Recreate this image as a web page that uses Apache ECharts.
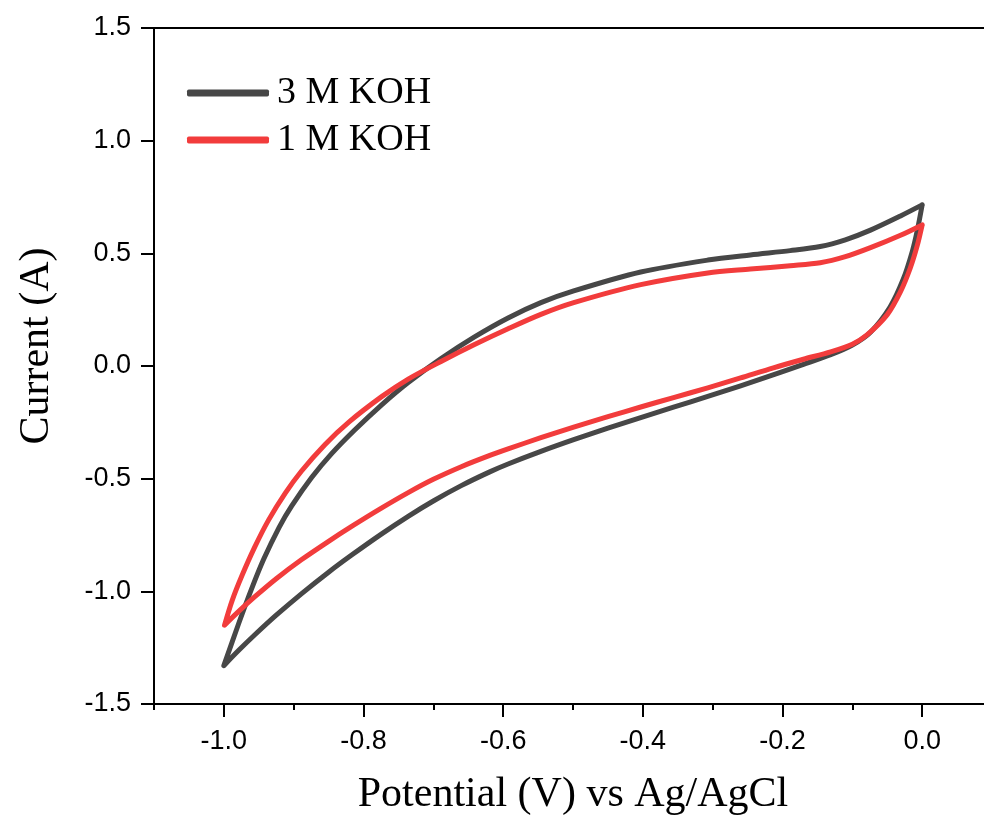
<!DOCTYPE html>
<html>
<head>
<meta charset="utf-8">
<script src="https://cdn.jsdelivr.net/npm/echarts@6/dist/echarts.min.js"></script>
<style>
html,body{margin:0;padding:0;background:#fff;}
#chart{width:984px;height:816px;}
</style>
</head>
<body>
<div id="chart"></div>
<script>
// Series names
const seriesNames = ['3 M KOH', '1 M KOH'];

// 3 M KOH loop (potential V, current A): upper branch 0 -> -1.0, then lower branch -1.0 -> 0
const potential3M = [0.000, -0.031, -0.074, -0.110, -0.146, -0.189, -0.246, -0.307, -0.403, -0.499, -0.546, -0.593, -0.641, -0.689, -0.736, -0.774, -0.813, -0.846, -0.874, -0.903, -0.921, -0.943, -0.960, -0.979, -1.000,
  -0.979, -0.956, -0.925, -0.889, -0.850, -0.817, -0.775, -0.736, -0.700, -0.660, -0.620, -0.593, -0.546, -0.499, -0.450, -0.403, -0.356, -0.307, -0.260, -0.203, -0.170, -0.131, -0.100, -0.074, -0.046, -0.027, -0.014, -0.007, 0.000];
const current3M = [0.715, 0.666, 0.603, 0.560, 0.530, 0.512, 0.493, 0.470, 0.417, 0.333, 0.281, 0.213, 0.129, 0.033, -0.073, -0.172, -0.285, -0.390, -0.494, -0.622, -0.717, -0.858, -0.987, -1.145, -1.330,
  -1.263, -1.194, -1.106, -1.011, -0.915, -0.839, -0.747, -0.667, -0.599, -0.531, -0.471, -0.435, -0.379, -0.327, -0.276, -0.229, -0.183, -0.135, -0.088, -0.028, 0.007, 0.050, 0.093, 0.150, 0.262, 0.386, 0.510, 0.601, 0.715];

// 1 M KOH loop
const potential1M = [0.000, -0.031, -0.074, -0.110, -0.146, -0.189, -0.246, -0.307, -0.403, -0.499, -0.546, -0.593, -0.641, -0.689, -0.736, -0.774, -0.821, -0.855, -0.889, -0.912, -0.936, -0.956, -0.974, -0.988, -0.999,
  -0.978, -0.956, -0.925, -0.889, -0.850, -0.817, -0.775, -0.736, -0.700, -0.660, -0.620, -0.593, -0.546, -0.499, -0.450, -0.403, -0.356, -0.307, -0.260, -0.213, -0.170, -0.131, -0.100, -0.079, -0.050, -0.031, -0.017, -0.007, 0.000];
const current1M = [0.626, 0.580, 0.525, 0.485, 0.458, 0.445, 0.430, 0.413, 0.361, 0.281, 0.229, 0.165, 0.095, 0.020, -0.058, -0.136, -0.249, -0.348, -0.467, -0.564, -0.684, -0.805, -0.930, -1.040, -1.150,
  -1.087, -1.025, -0.944, -0.860, -0.778, -0.712, -0.632, -0.562, -0.503, -0.447, -0.398, -0.368, -0.318, -0.271, -0.225, -0.182, -0.140, -0.097, -0.053, -0.008, 0.030, 0.063, 0.097, 0.138, 0.228, 0.330, 0.435, 0.535, 0.626];

// Tick values
const xTickValues = [-1.0, -0.8, -0.6, -0.4, -0.2, 0.0];
const xMinorTickValues = [-1.1, -0.9, -0.7, -0.5, -0.3, -0.1, 0.1];
const yMin = -1.5, yMax = 1.5, yInterval = 0.5;
const xMin = -1.1, xMax = 0.1;

function zip(xs, ys) { return xs.map((x, i) => [x, ys[i]]); }

const chart = echarts.init(document.getElementById('chart'), null, {renderer: 'canvas'});
const axisColor = '#000';
const fmt = v => (Math.abs(v) < 1e-9 ? 0 : v).toFixed(1);

chart.setOption({
  animation: false,
  backgroundColor: '#fff',
  grid: {left: 154, right: -8, top: 28, bottom: 112, containLabel: false, outerBoundsMode: 'none'},
  legend: {
    orient: 'vertical',
    left: 182, top: 69,
    itemWidth: 82, itemHeight: 7, itemGap: 9,
    icon: 'roundRect',
    textStyle: {fontFamily: 'Liberation Serif', fontSize: 38, lineHeight: 38, color: '#000', padding: [0, 0, 0, 3]},
    data: seriesNames
  },
  xAxis: [
    {
      type: 'value', min: xMin, max: xMax, position: 'bottom',
      name: 'Potential (V) vs Ag/AgCl', nameLocation: 'middle', nameGap: 70,
      nameTextStyle: {fontFamily: 'Liberation Serif', fontSize: 42, color: '#000'},
      axisLine: {show: true, onZero: false, lineStyle: {color: axisColor, width: 2}},
      axisTick: {show: true, customValues: xTickValues, length: 13, lineStyle: {color: axisColor, width: 2}},
      axisLabel: {show: true, customValues: xTickValues, margin: 24, formatter: fmt,
        fontFamily: 'Liberation Sans', fontSize: 27, color: '#000'},
      splitLine: {show: false}
    },
    {
      type: 'value', min: xMin, max: xMax, position: 'bottom',
      axisLine: {show: false, onZero: false},
      axisTick: {show: true, customValues: xMinorTickValues, length: 6, lineStyle: {color: axisColor, width: 2}},
      axisLabel: {show: false},
      splitLine: {show: false}
    },
    {
      type: 'value', min: xMin, max: xMax, position: 'top',
      axisLine: {show: true, onZero: false, lineStyle: {color: axisColor, width: 2}},
      axisTick: {show: false},
      axisLabel: {show: false},
      splitLine: {show: false}
    }
  ],
  yAxis: {
    type: 'value', min: yMin, max: yMax, interval: yInterval,
    name: 'Current (A)', nameLocation: 'middle', nameGap: 96, nameRotate: 90,
    nameTextStyle: {fontFamily: 'Liberation Serif', fontSize: 42, color: '#000', padding: [0, 0, 0, 40]},
    axisLine: {show: true, onZero: false, lineStyle: {color: axisColor, width: 2}},
    axisTick: {show: true, length: 13, lineStyle: {color: axisColor, width: 2}},
    axisLabel: {margin: 23, formatter: fmt, fontFamily: 'Liberation Sans', fontSize: 27, color: '#000'},
    splitLine: {show: false}
  },
  series: [
    {
      name: seriesNames[0], type: 'line', xAxisIndex: 0,
      data: zip(potential3M, current3M),
      showSymbol: false, smooth: 0.3,
      lineStyle: {color: '#474747', width: 5, cap: 'round', join: 'round'},
      itemStyle: {color: '#474747'}
    },
    {
      name: seriesNames[1], type: 'line', xAxisIndex: 0,
      data: zip(potential1M, current1M),
      showSymbol: false, smooth: 0.3,
      lineStyle: {color: '#f23c3c', width: 5, cap: 'round', join: 'round'},
      itemStyle: {color: '#f23c3c'}
    }
  ]
});
</script>
</body>
</html>
